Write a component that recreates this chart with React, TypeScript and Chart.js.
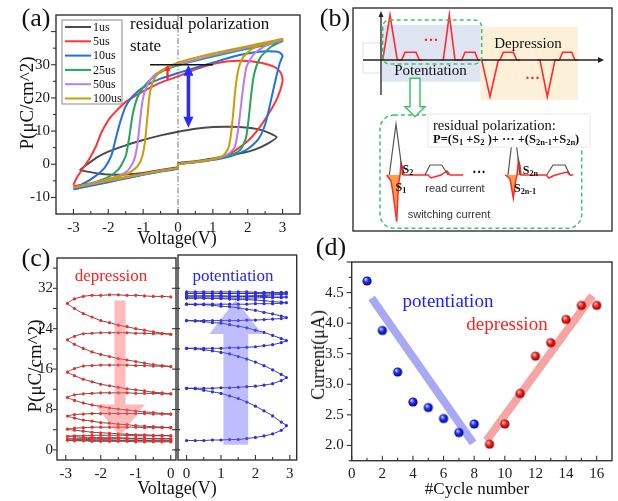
import React, { useEffect, useRef } from 'react';
import { Chart, registerables } from 'chart.js';

Chart.register(...registerables);

const SERIF = "'Liberation Serif', 'Times New Roman', serif";
const SANS = "'Liberation Sans', Arial, sans-serif";

// ================= (a) hysteresis loops =================
const A_LABELS = ['1us', '5us', '10us', '25us', '50us', '100us'];
const A_COLORS = ['#4b4b4b', '#ff3434', '#2170e6', '#25a45a', '#bb7bee', '#cc9b08'];
const LOOP_1US = [[-2.82,-1.8],[-2.6,0],[-2.3,2.2],[-2,3.8],[-1.5,5.7],[-1,7.3],[-0.5,8.7],[0,9.8],[0.5,10.7],[1,11.2],[1.5,11.3],[2,11],[2.4,10.3],[2.83,8.2],[2.6,6.4],[2.2,4.4],[1.8,3.3],[1.2,2.1],[0.5,0.9],[0,0.3],[0,-0.8],[-0.5,-1.7],[-1,-2.6],[-1.5,-3.1],[-2,-3.1],[-2.4,-2.6],[-2.82,-1.8]];
const LOOP_5US = [[-3,-6.6],[-2.5,-5.8],[-2,-4.9],[-1.5,-4],[-1,-3],[-0.5,-2],[0,-1.1],[0,0],[0.5,0.7],[1,1.5],[1.5,3.3],[2,7],[2.3,10.5],[2.6,15.2],[2.85,20],[3,24.9],[2.97,27],[2.85,28.8],[2.6,30],[2.2,30.9],[1.8,31.2],[1.4,31],[1,30.2],[0.5,28.6],[0,26.5],[-0.5,24.6],[-1,22],[-1.5,18.8],[-1.95,14],[-2.2,9.5],[-2.35,5.5],[-2.55,1.5],[-2.75,-1.6],[-2.9,-4],[-3,-6.2]];
const LOOP_10US = [[-3,-7.6],[-2.5,-6.5],[-2,-5.4],[-1.5,-4.3],[-1,-3.2],[-0.5,-2.2],[0,-1.3],[0,0],[0.5,0.6],[1,1.3],[1.5,2.4],[2,4.6],[2.3,7.5],[2.5,12],[2.65,18.5],[2.8,25.5],[2.92,30.5],[3,32.7],[2.9,33.8],[2.6,34.1],[2.2,33.8],[1.8,33],[1.4,31.9],[1,30.6],[0.5,29.1],[0,27.5],[-0.5,25.8],[-1,23.2],[-1.3,20.5],[-1.5,17.5],[-1.65,13],[-1.78,8],[-1.9,3],[-2.1,-1],[-2.4,-3.8],[-2.7,-5.8],[-3,-7.3]];
const LOOP_25US = [[-3,-7.2],[-2.5,-6.1],[-2,-5.1],[-1.5,-4.1],[-1,-3.1],[-0.5,-2.1],[0,-1.2],[0,0],[0.5,0.7],[1,1.5],[1.5,2.8],[1.8,4.5],[1.95,8],[2.03,14],[2.1,21],[2.18,27],[2.35,32],[2.65,35.3],[3,37.2],[2.6,36.1],[2,34.8],[1.5,33.7],[1,32.5],[0.5,31.2],[0,29.8],[-0.4,28.3],[-0.7,26.3],[-0.95,23.8],[-1.15,20.5],[-1.3,15],[-1.4,8],[-1.5,2.5],[-1.7,-1.5],[-2,-3.9],[-2.5,-5.8],[-3,-7.1]];
const LOOP_50US = [[-3,-7.1],[-2.5,-6],[-2,-5],[-1.5,-4],[-1,-3],[-0.5,-2],[0,-1.1],[0,0],[0.5,0.7],[1,1.5],[1.4,2.8],[1.62,5],[1.72,10],[1.8,17],[1.88,24],[1.97,29.5],[2.2,33.5],[2.6,36.2],[3,37.5],[2.5,36.5],[2,35.3],[1.5,34.1],[1,32.9],[0.5,31.5],[0,30.1],[-0.4,28.6],[-0.7,26.7],[-0.9,23.5],[-1.02,19],[-1.1,12],[-1.17,5.5],[-1.27,1],[-1.45,-2],[-1.8,-3.8],[-2.3,-5.3],[-3,-7.1]];
const LOOP_100US = [[-3,-7],[-2.5,-5.9],[-2,-4.9],[-1.5,-3.9],[-1,-2.9],[-0.5,-1.9],[0,-1],[0,0],[0.5,0.7],[1,1.5],[1.3,2.6],[1.45,5],[1.52,9],[1.58,15],[1.64,22],[1.72,28],[1.85,32],[2.1,34.6],[2.5,36.4],[3,37.8],[2.5,36.7],[2,35.6],[1.5,34.5],[1,33.4],[0.5,32.1],[0,30.6],[-0.3,29.3],[-0.55,27.6],[-0.72,25],[-0.82,20.5],[-0.88,14],[-0.94,7.5],[-1.02,2.5],[-1.15,-0.5],[-1.4,-2.6],[-1.8,-4],[-2.3,-5.4],[-3,-7]];
const A_X_TICKS = [-3, -2, -1, 0, 1, 2, 3];
const A_X_MINOR = [-2.5, -1.5, -0.5, 0.5, 1.5, 2.5];
const A_Y_TICKS = [-10, 0, 10, 20, 30];
const A_Y_MARKS = [-10, 0, 10, 20, 30, 40];
const A_Y_MINOR = [-5, 5, 15, 25, 35];
const A_ZERO_V = 0;
const A_RES_LINE = [[-0.8, 30], [1.0, 30]];
const A_RED_ARROW = [-0.3, 25.5, 30];
const A_BLUE_ARROW = [0.3, 11, 30];

// ================= (c) depression / potentiation =================
const VD = [0,-0.25,-0.5,-0.75,-1,-1.25,-1.5,-1.75,-2,-2.25,-2.5,-2.75,-2.95,-2.75,-2.5,-2.25,-2,-1.75,-1.5,-1.25,-1,-0.75,-0.5,-0.25,0];
const DEP_LOOP_1 = [30.3,30.4,30.4,30.5,30.6,30.6,30.7,30.7,30.6,30.6,30.4,29.9,29.0,28.0,27.0,26.3,25.6,25.2,24.7,24.4,24.0,23.7,23.4,23.1,22.9];
const DEP_LOOP_2 = [22.9,23.0,23.0,23.1,23.1,23.2,23.2,23.2,23.2,23.1,23.0,22.5,21.8,20.9,20.1,19.4,18.9,18.5,18.1,17.8,17.5,17.2,16.9,16.7,16.5];
const DEP_LOOP_3 = [16.5,16.6,16.6,16.7,16.7,16.8,16.8,16.8,16.8,16.7,16.6,16.1,15.4,14.7,14.0,13.5,13.0,12.7,12.4,12.1,11.9,11.7,11.4,11.3,11.1];
const DEP_LOOP_4 = [11.1,11.1,11.2,11.2,11.2,11.3,11.3,11.3,11.3,11.2,11.1,10.9,10.4,9.8,9.3,8.9,8.6,8.3,8.1,7.9,7.7,7.5,7.4,7.2,7.1];
const DEP_LOOP_5 = [7.1,7.1,7.1,7.2,7.2,7.2,7.2,7.2,7.2,7.2,7.1,7.0,6.7,6.3,5.9,5.7,5.4,5.3,5.1,5.0,4.8,4.7,4.6,4.5,4.4];
const DEP_LOOP_6 = [4.4,4.4,4.4,4.4,4.5,4.5,4.5,4.5,4.5,4.5,4.4,4.3,4.1,3.9,3.7,3.5,3.4,3.3,3.2,3.1,3.0,3.0,2.9,2.9,2.8];
const DEP_LOOP_7 = [2.8,2.8,2.8,2.8,2.8,2.9,2.9,2.9,2.9,2.9,2.8,2.8,2.7,2.6,2.5,2.5,2.4,2.4,2.4,2.3,2.3,2.3,2.2,2.2,2.2];
const DEP_LOOP_8 = [2.2,2.2,2.2,2.2,2.2,2.3,2.3,2.3,2.3,2.3,2.2,2.2,2.2,2.1,2.1,2.0,2.0,2.0,1.9,1.9,1.9,1.9,1.8,1.8,1.8];
const DEP_LOOP_9 = [1.8,1.8,1.8,1.8,1.9,1.9,1.9,1.9,1.9,1.9,1.9,1.9,1.9,1.8,1.8,1.7,1.7,1.7,1.7,1.7,1.6,1.6,1.6,1.6,1.6];
const VP = [0,0.25,0.5,0.75,1,1.25,1.5,1.75,2,2.25,2.5,2.75,2.9,2.75,2.5,2.25,2,1.75,1.5,1.25,1,0.75,0.5,0.25,0];
const POT_LOOP_1 = [1.8,1.8,1.8,1.9,1.9,2.0,2.0,2.2,2.4,2.7,3.1,3.8,4.7,5.4,6.6,7.6,8.5,9.3,10.0,10.5,11.0,11.3,11.6,11.9,12.0];
const POT_LOOP_2 = [12.0,12.0,12.0,12.0,12.1,12.1,12.2,12.3,12.4,12.6,12.9,13.5,14.1,14.7,15.6,16.4,17.1,17.7,18.2,18.7,19.0,19.3,19.5,19.7,19.8];
const POT_LOOP_3 = [19.8,19.8,19.8,19.8,19.8,19.9,19.9,20.0,20.1,20.3,20.5,20.9,21.3,21.7,22.3,22.9,23.3,23.8,24.1,24.4,24.7,24.8,25.0,25.1,25.2];
const POT_LOOP_4 = [25.2,25.2,25.2,25.2,25.2,25.2,25.2,25.3,25.3,25.4,25.5,25.6,25.8,26.1,26.5,26.8,27.2,27.4,27.7,27.9,28.0,28.2,28.3,28.3,28.4];
const POT_LOOP_5 = [28.4,28.4,28.4,28.4,28.4,28.4,28.4,28.4,28.5,28.5,28.5,28.6,28.7,28.8,28.9,29.1,29.2,29.3,29.3,29.4,29.5,29.5,29.6,29.6,29.6];
const POT_LOOP_6 = [29.6,29.6,29.6,29.6,29.6,29.6,29.6,29.6,29.6,29.7,29.7,29.7,29.8,29.8,29.8,29.9,29.9,29.9,29.9,29.9,30.0,30.0,30.0,30.0,30.0];
const POT_LOOP_7 = [30.0,30.0,30.0,30.0,30.0,30.0,30.0,30.0,30.1,30.1,30.2,30.3,30.4,30.4,30.4,30.4,30.5,30.5,30.5,30.5,30.5,30.5,30.5,30.5,30.5];
const POT_LOOP_8 = [30.5,30.5,30.5,30.5,30.5,30.5,30.5,30.5,30.5,30.6,30.6,30.6,30.7,30.7,30.7,30.7,30.7,30.8,30.8,30.8,30.8,30.8,30.8,30.8,30.8];
const C_XL_TICKS = [-3, -2, -1, 0];
const C_XL_MINOR = [-2.5, -1.5, -0.5];
const C_XR_TICKS = [0, 1, 2, 3];
const C_XR_MINOR = [0.5, 1.5, 2.5];
const C_Y_TICKS = [0, 8, 16, 24, 32];
const C_Y_MARKS = [0, 4, 8, 12, 16, 20, 24, 28, 32, 36];
const C_DEP_ARROW = [-1.45, 29.6, 9.0, 2.6, 0.16, 0.71]; // x, tail, head base, tip, shaft half, head half
const C_POT_ARROW = [1.43, 1.0, 22.6, 29.2, 0.36, 0.77];

// ================= (d) current vs cycle =================
const CYCLE_POT = [1, 2, 3, 4, 5, 6, 7, 8];
const CURRENT_POT = [4.69, 3.88, 3.2, 2.71, 2.62, 2.44, 2.21, 2.35];
const CYCLE_DEP = [9, 10, 11, 12, 13, 14, 15, 16];
const CURRENT_DEP = [2.02, 2.35, 2.85, 3.46, 3.68, 4.06, 4.29, 4.29];
const FIT_POT = [[1.3, 4.41], [7.93, 2.04]];
const FIT_DEP = [[8.8, 2.08], [15.72, 4.45]];
const D_X_TICKS = [0, 2, 4, 6, 8, 10, 12, 14, 16];
const D_X_MINOR = [1, 3, 5, 7, 9, 11, 13, 15];
const D_Y_TICKS = [2.0, 2.5, 3.0, 3.5, 4.0, 4.5];
const D_Y_MARKS = [2.0, 2.5, 3.0, 3.5, 4.0, 4.5, 5.0];
const D_Y_MINOR = [1.75, 2.25, 2.75, 3.25, 3.75, 4.25, 4.75];

// ================= (b) schematic (time / amplitude units) =================
const B_AXIS_X = [[-18, 0], [219, 0]];
const B_AXIS_Y = [[0, 45], [0, -35]];
const B_PULSE_A = [[1.7,0],[9,45],[16.3,0],[20.7,0],[24,7.7],[35,7.7],[38.3,0],[41.7,0]];
const B_PULSE_B = [[60.7,0],[62.3,0],[68.3,45],[74,0],[80.7,0],[84,7.7],[94,7.7],[97,0],[100.7,0],[109,-36.7],[117.3,0],[119,0],[122.3,7.7],[132.3,7.7],[135.7,0],[139,0]];
const B_PULSE_C = [[156,0],[159,0],[166.3,-36.7],[174,0],[178.3,0],[181.7,7.7],[190.7,7.7],[194,0],[196.7,0]];
const B_WRITE_1 = [[8.3,-115],[15,-64],[21.7,-115]];
const B_READ_1 = [[44,-115],[49,-105],[60.7,-105],[67.3,-115]];
const B_WRITE_2 = [[127,-115],[133,-64],[139,-115]];
const B_READ_2 = [[165.7,-115],[172,-105],[184,-105],[189,-115]];
const B_FILL_1 = [[5.7,-115],[7,-117],[10,-121],[12,-133],[15.7,-161.7],[17,-134],[18,-121],[19,-116],[20,-103],[21.5,-107],[23,-115]];
const B_FILL_2 = [[124,-115],[126,-116],[129,-119],[132.3,-138],[134.5,-122],[136,-115],[137.5,-100],[139,-106],[140,-115]];
const B_CUR_1 = [...B_FILL_1, [47,-115],[50,-118],[55,-116.5],[60,-115],[66,-111],[69,-115],[82.3,-115]];
const B_CUR_2 = [...B_FILL_2, [165,-115],[168,-118],[173,-115.5],[186,-112],[189,-115],[192.3,-115]];
const B_BG_POT = [0.7, 35, 99.7, -21.7];
const B_BG_DEP = [99.7, 33.3, 196.7, -40];
const B_GREEN_UP = [1.7, 40, 100.7, -4];
const B_GREEN_LOW = [-1, -55, 200.7, -168.3];
const B_TEXTBOX = [47, -54, 209, -87];
const B_FAINT = [-18, 17, 0, -13];
const B_GREEN_ARROW = [34, -18.3, -46.7, -56.7, 5, 10];

// ================= layout (canvas rect, plot rect) =================
const CV_A = [0, 0, 310, 250], PL_A = [56, 8, 300, 214];
const CV_B = [351, 6, 263, 227], PL_B = [353, 8, 612, 231];
const CV_CL = [0, 245, 180, 245], PL_CL = [57, 255, 176.7, 460];
const CV_CR = [174, 245, 130, 245], PL_CR = [176.7, 255, 296.7, 460];
const CV_D = [305, 245, 313, 245], PL_D = [351.7, 254, 612.3, 460.7];

type Mark = { axis: 'x' | 'y'; vals: number[]; len: number; side: 'in' | 'out' | 'both'; edge?: 'left' | 'right' };

function base(cv: number[], pl: number[], showX = true, showY = true) {
  const [cx, cy, cw, ch] = cv;
  const [l, t, r, b] = pl;
  return {
    responsive: false,
    animation: false,
    events: [],
    layout: { padding: { left: showY ? 0 : l - cx, top: t - cy, right: cx + cw - r, bottom: showX ? 0 : cy + ch - b } },
    plugins: { legend: { display: false }, tooltip: { enabled: false } },
  };
}

function axis(kind: 'x' | 'y', min: number, max: number, ticks: number[] | null, cv: number[], pl: number[], pad: number, fmt?: (v: number) => string, show = true) {
  const size = kind === 'x' ? cv[1] + cv[3] - pl[3] : pl[0] - cv[0];
  return {
    type: 'linear',
    min,
    max,
    display: show,
    grid: { display: false, drawTicks: false },
    border: { display: false },
    afterBuildTicks: (s: any) => { if (ticks) s.ticks = ticks.map((v) => ({ value: v })); },
    afterFit: show ? (s: any) => { if (kind === 'x') s.height = size; else s.width = size; } : undefined,
    ticks: {
      autoSkip: false, maxRotation: 0, minRotation: 0, padding: pad, color: '#1a1a1a',
      font: { family: SERIF, size: 15 },
      callback: (v: any) => (fmt ? fmt(Number(v)) : String(v)),
    },
  };
}

function framePlugin(marks: Mark[], before?: (c: any) => void, after?: (c: any) => void, box = true) {
  return {
    id: 'frame',
    beforeDatasetsDraw(c: any) { if (before) before(c); },
    afterDatasetsDraw(c: any) { if (after) after(c); },
    afterDraw(c: any) {
      const { ctx, chartArea: a } = c;
      ctx.save();
      ctx.setLineDash([]);
      ctx.strokeStyle = '#333';
      if (box) {
        ctx.lineWidth = 1.4;
        ctx.strokeRect(a.left, a.top, a.right - a.left, a.bottom - a.top);
      }
      ctx.lineWidth = 1.1;
      for (const m of marks) {
        const s = c.scales[m.axis];
        const inn = m.side === 'in' || m.side === 'both' ? m.len : 0;
        const out = m.side === 'out' || m.side === 'both' ? m.len : 0;
        for (const v of m.vals) {
          const p = s.getPixelForValue(v);
          ctx.beginPath();
          if (m.axis === 'x') {
            ctx.moveTo(p, a.bottom - inn);
            ctx.lineTo(p, a.bottom + out);
          } else {
            const right = m.edge === 'right';
            const x0 = right ? a.right : a.left;
            const sg = right ? -1 : 1;
            ctx.moveTo(x0 - sg * out, p);
            ctx.lineTo(x0 + sg * inn, p);
          }
          ctx.stroke();
        }
      }
      ctx.restore();
    },
  };
}

function pts(arr: number[][]) { return arr.map(([x, y]) => ({ x, y })); }

function tri(ctx: any, x: number, yTip: number, w: number, back: number) {
  ctx.beginPath();
  ctx.moveTo(x, yTip);
  ctx.lineTo(x - w / 2, yTip + back);
  ctx.lineTo(x + w / 2, yTip + back);
  ctx.closePath();
  ctx.fill();
}

function vArrow(ctx: any, x: number, y0: number, y1: number, color: string, sw: number, hw: number, hl: number, both: boolean) {
  ctx.strokeStyle = color; ctx.fillStyle = color; ctx.lineWidth = sw;
  const dir = Math.sign(y1 - y0);
  ctx.beginPath();
  ctx.moveTo(x, both ? y0 + dir * hl * 0.8 : y0);
  ctx.lineTo(x, y1 - dir * hl * 0.8);
  ctx.stroke();
  tri(ctx, x, y1, hw, -dir * hl);
  if (both) tri(ctx, x, y0, hw, dir * hl);
}

// ---------- (a) ----------
function buildA() {
  const loops = [LOOP_1US, LOOP_5US, LOOP_10US, LOOP_25US, LOOP_50US, LOOP_100US];
  const before = (c: any) => {
    const { ctx, chartArea: a } = c;
    const x = c.scales.x.getPixelForValue(A_ZERO_V);
    ctx.save();
    ctx.strokeStyle = '#666'; ctx.lineWidth = 0.9; ctx.setLineDash([6, 2, 1.5, 2]);
    ctx.beginPath(); ctx.moveTo(x, a.top); ctx.lineTo(x, a.bottom); ctx.stroke();
    ctx.restore();
  };
  const after = (c: any) => {
    const { ctx, chartArea: a } = c;
    const X = (v: number) => c.scales.x.getPixelForValue(v);
    const Y = (v: number) => c.scales.y.getPixelForValue(v);
    ctx.save();
    ctx.strokeStyle = '#111'; ctx.lineWidth = 1.6;
    ctx.beginPath(); ctx.moveTo(X(A_RES_LINE[0][0]), Y(A_RES_LINE[0][1])); ctx.lineTo(X(A_RES_LINE[1][0]), Y(A_RES_LINE[1][1])); ctx.stroke();
    vArrow(ctx, X(A_RED_ARROW[0]), Y(A_RED_ARROW[1]), Y(A_RED_ARROW[2]), '#ff2020', 2.2, 6, 6, false);
    vArrow(ctx, X(A_BLUE_ARROW[0]), Y(A_BLUE_ARROW[1]), Y(A_BLUE_ARROW[2]), '#2b2bff', 3.6, 10, 11, true);
    // legend
    const lx = a.left + 6, ly = a.top + 5;
    ctx.fillStyle = '#fff'; ctx.strokeStyle = '#8a8a8a'; ctx.lineWidth = 1;
    ctx.fillRect(lx, ly, 60, 84); ctx.strokeRect(lx, ly, 60, 84);
    ctx.font = `12px ${SERIF}`; ctx.textBaseline = 'middle'; ctx.textAlign = 'left';
    A_LABELS.forEach((lab, i) => {
      const y = ly + 7 + i * 14.3;
      ctx.strokeStyle = A_COLORS[i]; ctx.lineWidth = 2;
      ctx.beginPath(); ctx.moveTo(lx + 3, y); ctx.lineTo(lx + 29, y); ctx.stroke();
      ctx.fillStyle = '#111'; ctx.fillText(lab, lx + 31, y + 0.5);
    });
    ctx.restore();
  };
  return {
    type: 'line',
    data: {
      datasets: loops.map((lp, i) => ({
        label: A_LABELS[i], data: pts(lp), borderColor: A_COLORS[i], borderWidth: 2, pointRadius: 0,
        tension: 0.2, fill: false, order: loops.length - i,
      })),
    },
    options: {
      ...base(CV_A, PL_A),
      scales: { x: axis('x', -3.5, 3.5, A_X_TICKS, CV_A, PL_A, 5), y: axis('y', -15, 45, A_Y_TICKS, CV_A, PL_A, 6) },
    },
    plugins: [framePlugin([
      { axis: 'x', vals: A_X_TICKS, len: 5, side: 'in' },
      { axis: 'x', vals: A_X_MINOR, len: 3, side: 'in' },
      { axis: 'y', vals: A_Y_MARKS, len: 5, side: 'out' },
      { axis: 'y', vals: A_Y_MINOR, len: 3, side: 'out' },
    ], before, after)],
  };
}

// ---------- (b) ----------
function buildB() {
  const rectS = (c: any, r: number[]) => {
    const X = (v: number) => c.scales.x.getPixelForValue(v);
    const Y = (v: number) => c.scales.y.getPixelForValue(v);
    return [X(r[0]), Y(r[1]), X(r[2]) - X(r[0]), Y(r[3]) - Y(r[1])];
  };
  const rr = (ctx: any, x: number, y: number, w: number, h: number, rad: number) => {
    ctx.beginPath();
    ctx.moveTo(x + rad, y);
    ctx.arcTo(x + w, y, x + w, y + h, rad);
    ctx.arcTo(x + w, y + h, x, y + h, rad);
    ctx.arcTo(x, y + h, x, y, rad);
    ctx.arcTo(x, y, x + w, y, rad);
    ctx.closePath();
  };
  const before = (c: any) => {
    const ctx = c.ctx;
    ctx.save();
    let [x, y, w, h] = rectS(c, B_BG_POT); ctx.fillStyle = '#dfe4f3'; ctx.fillRect(x, y, w, h);
    [x, y, w, h] = rectS(c, B_BG_DEP); ctx.fillStyle = '#fcf0d9'; ctx.fillRect(x, y, w, h);
    [x, y, w, h] = rectS(c, B_FAINT); ctx.strokeStyle = '#e2e2e2'; ctx.lineWidth = 1; ctx.strokeRect(x, y, w, h);
    ctx.restore();
  };
  const after = (c: any) => {
    const ctx = c.ctx;
    const X = (v: number) => c.scales.x.getPixelForValue(v);
    const Y = (v: number) => c.scales.y.getPixelForValue(v);
    ctx.save();
    ctx.strokeStyle = '#3cc46c'; ctx.lineWidth = 1.5; ctx.setLineDash([4, 3]);
    let [x, y, w, h] = rectS(c, B_GREEN_UP); rr(ctx, x, y, w, h, 7); ctx.stroke();
    [x, y, w, h] = rectS(c, B_GREEN_LOW); rr(ctx, x, y, w, h, 14); ctx.stroke();
    ctx.setLineDash([]);
    [x, y, w, h] = rectS(c, B_TEXTBOX); ctx.fillStyle = '#fff'; ctx.fillRect(x, y, w, h);
    ctx.strokeStyle = '#e8e8e8'; ctx.lineWidth = 1; ctx.strokeRect(x, y, w, h);
    // hollow green arrow
    const [xc, tail, bse, tip, sh, hh] = B_GREEN_ARROW;
    ctx.beginPath();
    ctx.moveTo(X(xc - sh), Y(tail)); ctx.lineTo(X(xc - sh), Y(bse)); ctx.lineTo(X(xc - hh), Y(bse));
    ctx.lineTo(X(xc), Y(tip)); ctx.lineTo(X(xc + hh), Y(bse)); ctx.lineTo(X(xc + sh), Y(bse)); ctx.lineTo(X(xc + sh), Y(tail));
    ctx.closePath();
    ctx.fillStyle = '#fff'; ctx.fill(); ctx.strokeStyle = '#3cc46c'; ctx.lineWidth = 1.5; ctx.stroke();
    // axis arrowheads
    ctx.fillStyle = '#222';
    const ax = X(B_AXIS_X[1][0]), ay = Y(B_AXIS_X[1][1]);
    ctx.beginPath(); ctx.moveTo(ax + 4, ay); ctx.lineTo(ax - 2, ay - 3); ctx.lineTo(ax - 2, ay + 3); ctx.closePath(); ctx.fill();
    const bx = X(B_AXIS_Y[0][0]), by = Y(B_AXIS_Y[0][1]);
    ctx.beginPath(); ctx.moveTo(bx, by - 4); ctx.lineTo(bx - 2.5, by + 2); ctx.lineTo(bx + 2.5, by + 2); ctx.closePath(); ctx.fill();
    ctx.restore();
  };
  const line = (d: number[][], color: string, w: number) => ({ data: pts(d), borderColor: color, borderWidth: w, pointRadius: 0, tension: 0, fill: false });
  const fill = (d: number[][]) => ({ data: pts(d), borderColor: 'rgba(0,0,0,0)', borderWidth: 0, pointRadius: 0, tension: 0, fill: { value: -115 }, backgroundColor: 'rgba(255,140,40,0.85)', order: 5 });
  return {
    type: 'line',
    data: {
      datasets: [
        line(B_AXIS_X, '#222', 1.3), line(B_AXIS_Y, '#222', 1.3),
        line(B_PULSE_A, '#ff2a2a', 1.6), line(B_PULSE_B, '#ff2a2a', 1.6), line(B_PULSE_C, '#ff2a2a', 1.6),
        line(B_WRITE_1, '#555', 1.2), line(B_READ_1, '#555', 1.2), line(B_WRITE_2, '#555', 1.2), line(B_READ_2, '#555', 1.2),
        line(B_CUR_1, '#ff2a2a', 1.5), line(B_CUR_2, '#ff2a2a', 1.5),
        fill(B_FILL_1), fill(B_FILL_2),
      ],
    },
    options: {
      ...base(CV_B, PL_B, false, false),
      scales: {
        x: { type: 'linear', min: -28, max: 231, display: false },
        y: { type: 'linear', min: -171, max: 52, display: false },
      },
    },
    plugins: [framePlugin([], before, after)],
  };
}

// ---------- (c) ----------
function blockArrow(c: any, A: number[], color: string) {
  const [xc, tail, bse, tip, sh, hh] = A;
  const X = (v: number) => c.scales.x.getPixelForValue(v);
  const Y = (v: number) => c.scales.y.getPixelForValue(v);
  const ctx = c.ctx;
  ctx.save();
  ctx.fillStyle = color;
  ctx.beginPath();
  ctx.moveTo(X(xc - sh), Y(tail)); ctx.lineTo(X(xc - sh), Y(bse)); ctx.lineTo(X(xc - hh), Y(bse));
  ctx.lineTo(X(xc), Y(tip)); ctx.lineTo(X(xc + hh), Y(bse)); ctx.lineTo(X(xc + sh), Y(bse)); ctx.lineTo(X(xc + sh), Y(tail));
  ctx.closePath(); ctx.fill();
  ctx.restore();
}

function buildCL() {
  const loops = [DEP_LOOP_1, DEP_LOOP_2, DEP_LOOP_3, DEP_LOOP_4, DEP_LOOP_5, DEP_LOOP_6, DEP_LOOP_7, DEP_LOOP_8, DEP_LOOP_9];
  const data = loops.flatMap((lp) => lp.map((p, i) => ({ x: VD[i], y: p })));
  return {
    type: 'line',
    data: { datasets: [{ data, borderColor: '#5b4b4b', borderWidth: 1, pointRadius: 1.6, pointBackgroundColor: '#ff2626', pointBorderWidth: 0, tension: 0.2, fill: false }] },
    options: {
      ...base(CV_CL, PL_CL),
      scales: { x: axis('x', -3.25, 0.15, C_XL_TICKS, CV_CL, PL_CL, 5), y: axis('y', -2, 38, C_Y_TICKS, CV_CL, PL_CL, 4) },
    },
    plugins: [framePlugin([
      { axis: 'x', vals: C_XL_TICKS, len: 5, side: 'in' },
      { axis: 'x', vals: C_XL_MINOR, len: 3, side: 'in' },
      { axis: 'y', vals: C_Y_MARKS, len: 4, side: 'out' },
      { axis: 'y', vals: C_Y_MARKS, len: 4, side: 'both', edge: 'right' },
    ], undefined, (c: any) => blockArrow(c, C_DEP_ARROW, 'rgba(255,105,105,0.45)'))],
  };
}

function buildCR() {
  const loops = [POT_LOOP_1, POT_LOOP_2, POT_LOOP_3, POT_LOOP_4, POT_LOOP_5, POT_LOOP_6, POT_LOOP_7, POT_LOOP_8];
  const data = loops.flatMap((lp) => lp.map((p, i) => ({ x: VP[i], y: p })));
  return {
    type: 'line',
    data: { datasets: [{ data, borderColor: '#3d3d7a', borderWidth: 1, pointRadius: 1.6, pointBackgroundColor: '#2a2aff', pointBorderWidth: 0, tension: 0.2, fill: false }] },
    options: {
      ...base(CV_CR, PL_CR, true, false),
      scales: { x: axis('x', -0.25, 3.2, C_XR_TICKS, CV_CR, PL_CR, 5), y: axis('y', -2, 38, null, CV_CR, PL_CR, 4, undefined, false) },
    },
    plugins: [framePlugin([
      { axis: 'x', vals: C_XR_TICKS, len: 5, side: 'in' },
      { axis: 'x', vals: C_XR_MINOR, len: 3, side: 'in' },
    ], undefined, (c: any) => blockArrow(c, C_POT_ARROW, 'rgba(100,100,255,0.42)'))],
  };
}

// ---------- (d) ----------
function sphere(light: string, mid: string, dark: string, r: number) {
  const cv = document.createElement('canvas');
  const d = Math.ceil(r * 2 + 2);
  cv.width = d; cv.height = d;
  const g = cv.getContext('2d') as CanvasRenderingContext2D;
  const cx = d / 2, cy = d / 2;
  const grad = g.createRadialGradient(cx - r * 0.35, cy - r * 0.4, r * 0.1, cx, cy, r);
  grad.addColorStop(0, light); grad.addColorStop(0.45, mid); grad.addColorStop(1, dark);
  g.fillStyle = grad; g.beginPath(); g.arc(cx, cy, r, 0, Math.PI * 2); g.fill();
  return cv;
}

function buildD() {
  const blue = sphere('#c8ccff', '#2030ff', '#00007a', 4.6);
  const red = sphere('#ffd0d0', '#ff2020', '#8a0000', 4.6);
  return {
    type: 'line',
    data: {
      datasets: [
        { data: CYCLE_POT.map((x, i) => ({ x, y: CURRENT_POT[i] })), showLine: false, pointStyle: blue, pointRadius: 5, order: 0 },
        { data: CYCLE_DEP.map((x, i) => ({ x, y: CURRENT_DEP[i] })), showLine: false, pointStyle: red, pointRadius: 5, order: 0 },
        { data: pts(FIT_POT), borderColor: 'rgba(110,110,235,0.6)', borderWidth: 8, pointRadius: 0, fill: false, order: 2 },
        { data: pts(FIT_DEP), borderColor: 'rgba(238,90,90,0.55)', borderWidth: 8, pointRadius: 0, fill: false, order: 2 },
      ],
    },
    options: {
      ...base(CV_D, PL_D),
      scales: {
        x: axis('x', 0, 17, D_X_TICKS, CV_D, PL_D, 4),
        y: axis('y', 1.75, 5.0, D_Y_TICKS, CV_D, PL_D, 8, (v) => v.toFixed(1)),
      },
    },
    plugins: [framePlugin([
      { axis: 'x', vals: D_X_TICKS, len: 5, side: 'in' },
      { axis: 'x', vals: D_X_MINOR, len: 3, side: 'in' },
      { axis: 'y', vals: D_Y_MARKS, len: 5, side: 'out' },
      { axis: 'y', vals: D_Y_MINOR, len: 3, side: 'out' },
    ])],
  };
}

function ChartBox({ box, build }: { box: number[]; build: () => any }) {
  const ref = useRef<HTMLCanvasElement | null>(null);
  useEffect(() => {
    const chart = new Chart(ref.current as HTMLCanvasElement, build());
    return () => chart.destroy();
  }, []);
  const [x, y, w, h] = box;
  return <canvas ref={ref} width={w} height={h} style={{ position: 'absolute', left: x, top: y, width: w, height: h }} />;
}

type T = { t: React.ReactNode; x: number; y: number; s: number; c?: string; w?: string; f?: string; r?: number; a?: 'left' | 'center' };

function Label({ t, x, y, s, c = '#111', w = 'normal', f = SERIF, r = 0, a = 'center' }: T) {
  return (
    <div style={{
      position: 'absolute', left: x, top: y, fontSize: s, fontFamily: f, color: c, fontWeight: w as any,
      whiteSpace: 'nowrap', lineHeight: 1, transform: `translate(${a === 'left' ? '0' : '-50%'},-50%) rotate(${r}deg)`,
    }}>{t}</div>
  );
}

const sub = (s: string) => <sub style={{ fontSize: '0.68em', verticalAlign: '-0.3em', lineHeight: 0 }}>{s}</sub>;

const TEXTS: T[] = [
  { t: '(a)', x: 36, y: 18, s: 26 },
  { t: '(b)', x: 335, y: 18, s: 26 },
  { t: '(c)', x: 36, y: 258, s: 26 },
  { t: '(d)', x: 331, y: 247, s: 26 },
  { t: 'P(μC/cm^2)', x: 26, y: 103, s: 19, r: -90 },
  { t: 'Voltage(V)', x: 177, y: 238, s: 18 },
  { t: 'residual polarization', x: 130, y: 23, s: 17, a: 'left' },
  { t: 'state', x: 130, y: 45, s: 17, a: 'left' },
  { t: 'P(μC/cm^2)', x: 34, y: 366, s: 19, r: -90 },
  { t: 'Voltage(V)', x: 177, y: 488, s: 18 },
  { t: 'depression', x: 111, y: 275, s: 17, c: '#ff2020' },
  { t: 'potentiation', x: 233, y: 275, s: 17, c: '#2424ff' },
  { t: 'Current(μA)', x: 318, y: 355, s: 18, r: -90 },
  { t: '#Cycle number', x: 477, y: 488, s: 17 },
  { t: 'potentiation', x: 448, y: 300, s: 19, c: '#2020ff' },
  { t: 'depression', x: 507, y: 323, s: 19, c: '#ff2020' },
  { t: 'Depression', x: 528, y: 43, s: 15 },
  { t: 'Potentiation', x: 430.5, y: 70, s: 15 },
  { t: '···', x: 431, y: 40, s: 15, c: '#ff2020', w: 'bold' },
  { t: '···', x: 532.5, y: 78, s: 15, c: '#ff2020', w: 'bold' },
  { t: 'residual polarization:', x: 433, y: 125, s: 14.5, a: 'left' },
  { t: <span>P=(S{sub('1')} +S{sub('2')} )+ ··· +(S{sub('2n-1')}+S{sub('2n')})</span>, x: 433, y: 138.5, s: 12.5, w: 'bold', a: 'left' },
  { t: <span>S{sub('2')}</span>, x: 408, y: 169, s: 12, w: 'bold' },
  { t: <span>S{sub('1')}</span>, x: 401, y: 187, s: 12, w: 'bold' },
  { t: 'read current', x: 455, y: 188, s: 11, f: SANS, c: '#333' },
  { t: 'switching current', x: 449, y: 213.5, s: 11, f: SANS, c: '#333' },
  { t: '···', x: 479, y: 173, s: 14, w: 'bold' },
  { t: <span>S{sub('2n')}</span>, x: 530.5, y: 170, s: 12, w: 'bold' },
  { t: <span>S{sub('2n-1')}</span>, x: 525, y: 188, s: 12, w: 'bold' },
];

export default function App() {
  return (
    <div style={{ position: 'absolute', left: 0, top: 0, width: 618, height: 501, background: '#fff', overflow: 'hidden' }}>
      <ChartBox box={CV_A} build={buildA} />
      <ChartBox box={CV_B} build={buildB} />
      <ChartBox box={CV_CL} build={buildCL} />
      <ChartBox box={CV_CR} build={buildCR} />
      <ChartBox box={CV_D} build={buildD} />
      {TEXTS.map((tx, i) => <Label key={i} {...tx} />)}
    </div>
  );
}
